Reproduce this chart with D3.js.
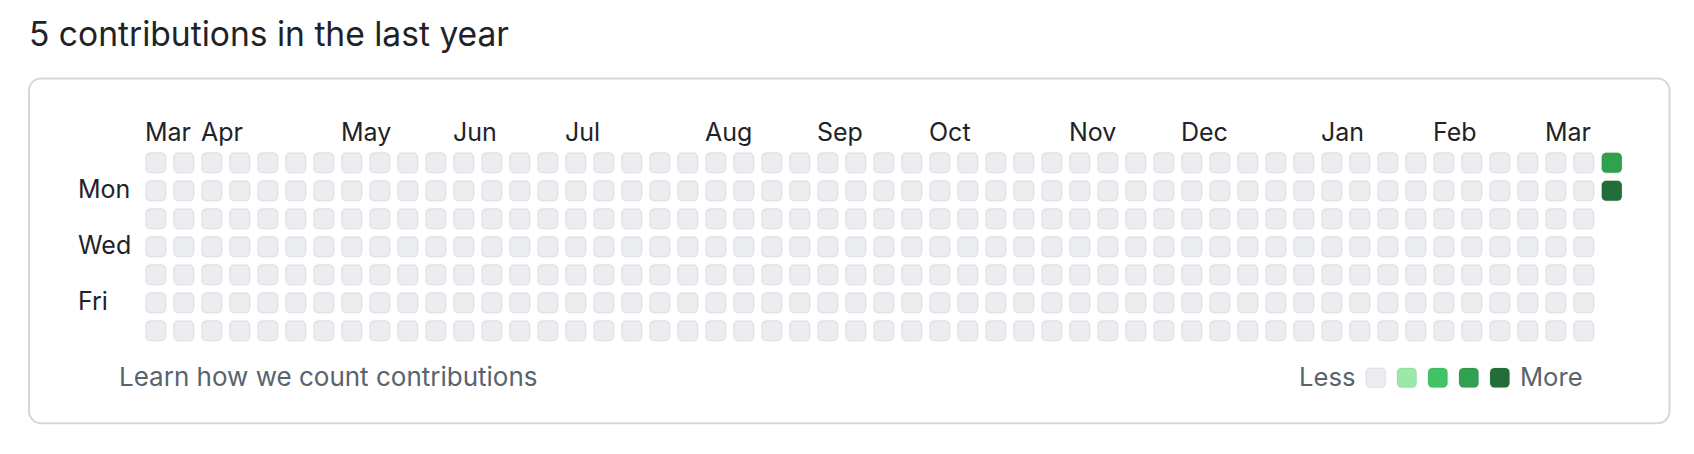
<!DOCTYPE html>
<html>
<head>
<meta charset="utf-8">
<script src="https://cdn.jsdelivr.net/npm/d3@7"></script>
<style>
  html, body { margin: 0; padding: 0; background: #ffffff; }
  svg { display: block; }
  text { font-family: Inter, "Noto Sans", "Liberation Sans", sans-serif; }
</style>
</head>
<body>
<svg id="chart" width="1694" height="454"></svg>
<script>
// ---- data ----
const titleText = "5 contributions in the last year";
const weekCount = 53;            // columns (weeks)
const dayCount = 7;              // rows Sun..Sat
const lastWeekDays = 2;          // the current week only has Sun, Mon so far
const monthNames = ["Mar","Apr","May","Jun","Jul","Aug","Sep","Oct","Nov","Dec","Jan","Feb","Mar"];
const monthWeeks = [0, 2, 7, 11, 15, 20, 24, 28, 33, 37, 42, 46, 50];
const dayNames = ["Mon", "Wed", "Fri"];
const dayRows = [1, 3, 5];
const contribWeeks = [52, 52];
const contribDays = [0, 1];
const contribCounts = [2, 3];
const levelColors = ["#ebedf0", "#9be9a8", "#40c463", "#30a14e", "#216e39"];
const legendLevels = [0, 1, 2, 3, 4];
const footerText = "Learn how we count contributions";

// ---- build cells ----
const countMap = new Map();
contribWeeks.forEach((w, i) => countMap.set(w + "-" + contribDays[i], contribCounts[i]));
const cells = [];
for (let w = 0; w < weekCount; w++) {
  const nd = (w === weekCount - 1) ? lastWeekDays : dayCount;
  for (let d = 0; d < nd; d++) {
    cells.push({ week: w, day: d, count: countMap.get(w + "-" + d) || 0 });
  }
}
const maxCount = d3.max(contribCounts);
const level = c => c === 0 ? 0 : Math.min(4, Math.ceil(c / maxCount * 4));

// ---- scales ----
const pitch = 28, cellSize = 21.6;
const x = d3.scaleLinear().domain([0, 1]).range([145, 145 + pitch]);
const y = d3.scaleLinear().domain([0, 1]).range([152, 152 + pitch]);
const color = d3.scaleOrdinal().domain(legendLevels).range(levelColors);

const svg = d3.select("#chart");

// frame
svg.append("rect")
  .attr("x", 29).attr("y", 78.5)
  .attr("width", 1640.5).attr("height", 344.8)
  .attr("rx", 12).attr("ry", 12)
  .attr("fill", "#ffffff")
  .attr("stroke", "#d1d9e0")
  .attr("stroke-width", 2);

// title
svg.append("text")
  .attr("x", 29).attr("y", 46)
  .attr("font-size", 33.6)
  .attr("fill", "#1f2328")
  .text(titleText);

// month labels
svg.append("g").selectAll("text")
  .data(monthNames)
  .join("text")
  .attr("x", (d, i) => x(monthWeeks[i]))
  .attr("y", 140.7)
  .attr("font-size", 25)
  .attr("fill", "#1f2328")
  .text(d => d);

// day labels
svg.append("g").selectAll("text")
  .data(dayNames)
  .join("text")
  .attr("x", 78)
  .attr("y", (d, i) => y(dayRows[i]) + cellSize / 2 + 7)
  .attr("font-size", 25)
  .attr("fill", "#1f2328")
  .text(d => d);

// cells
svg.append("g").selectAll("rect")
  .data(cells)
  .join("rect")
  .attr("x", d => x(d.week) + 0.75)
  .attr("y", d => y(d.day) + 0.75)
  .attr("width", cellSize - 1.5)
  .attr("height", cellSize - 1.5)
  .attr("rx", 4.5).attr("ry", 4.5)
  .attr("fill", d => color(level(d.count)))
  .attr("stroke", "rgba(31,35,40,0.07)")
  .attr("stroke-width", 1.5);

// footer
svg.append("text")
  .attr("x", 119).attr("y", 386)
  .attr("font-size", 26)
  .attr("fill", "#59636e")
  .text(footerText);

// legend
const lx = d3.scaleLinear().domain([0, 1]).range([1365.3, 1396.3]);
svg.append("text")
  .attr("x", 1299).attr("y", 386)
  .attr("font-size", 25.6)
  .attr("fill", "#59636e")
  .text("Less");
svg.append("g").selectAll("rect")
  .data(legendLevels)
  .join("rect")
  .attr("x", d => lx(d) + 0.75)
  .attr("y", 367.3 + 0.75)
  .attr("width", 21 - 1.5)
  .attr("height", 21 - 1.5)
  .attr("rx", 4.5).attr("ry", 4.5)
  .attr("fill", d => color(d))
  .attr("stroke", "rgba(31,35,40,0.07)")
  .attr("stroke-width", 1.5);
svg.append("text")
  .attr("x", 1520).attr("y", 386)
  .attr("font-size", 25.6)
  .attr("fill", "#59636e")
  .text("More");
</script>
</body>
</html>
